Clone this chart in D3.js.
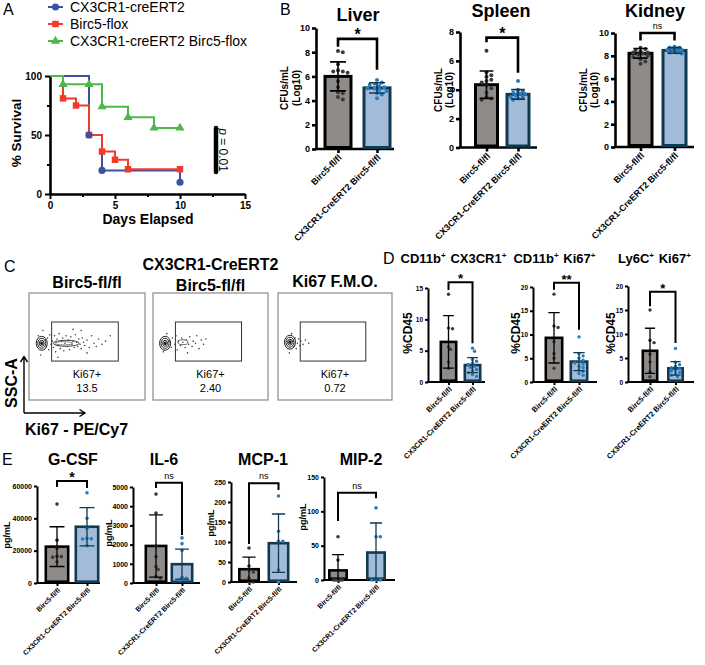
<!DOCTYPE html>
<html><head><meta charset="utf-8">
<script src="https://cdn.jsdelivr.net/npm/d3@7"></script>
<style>
body{margin:0;background:#fff;}
svg{display:block;}
</style></head><body>
<svg id="fig" width="705" height="665"></svg>
<script>
// ================= DATA =================
// Panel A : Kaplan-Meier survival
const survSeries = ["CX3CR1-creERT2", "Birc5-flox", "CX3CR1-creERT2 Birc5-flox"];
const survDaysCre  = [0, 3, 4, 10];
const survPctCre   = [100, 50, 20, 10];
const survDaysFlox = [0, 1, 2, 3, 4, 5, 6, 10];
const survPctFlox  = [100, 81, 75, 50, 36, 29, 21, 21];
const survDaysKO   = [0, 1, 4, 6, 8, 10];
const survPctKO    = [100, 93, 74, 65, 56, 56];
const markDaysCre  = [3, 4, 10];
const markPctCre   = [50, 20, 10];
const markDaysFlox = [1, 2, 3, 4, 5, 6, 10];
const markPctFlox  = [81, 75, 50, 36, 29, 21, 21];
const markDaysKO   = [1, 3, 4, 6, 8, 10];
const markPctKO    = [93, 93, 74, 65, 56, 56];
const survXTicks = [0, 5, 10, 15];
const survXMinor = [2.5, 7.5, 12.5];
const survYTicks = [0, 50, 100];
const survYMinor = [25, 75];
const survPValue = "0.01";

// Groups used in B, D, E
const groups = ["Birc5-fl/fl", "CX3CR1-CreERT2 Birc5-fl/fl"];

// Panel B : CFUs/mL (Log10)
const liverCtrl = [8.1, 8.0, 7.0, 6.5, 6.4, 6.4, 6.3, 5.6, 5.1, 4.7, 4.6, 4.3, 4.1];
const liverKO   = [5.7, 5.5, 5.4, 5.3, 5.2, 5.1, 5.0, 5.0, 4.9, 4.8, 4.6, 4.5, 4.2];
const liverMean = [6.0, 5.05];
const liverSD   = [1.2, 0.42];
const liverTicks = [0, 2, 4, 6, 8, 10];
const spleenCtrl = [6.7, 5.2, 5.0, 4.9, 4.7, 4.6, 4.5, 4.3, 4.1, 3.8, 3.5, 3.4, 3.3];
const spleenKO   = [4.6, 4.0, 3.9, 3.8, 3.8, 3.7, 3.7, 3.6, 3.5, 3.5, 3.4, 3.3];
const spleenMean = [4.35, 3.68];
const spleenSD   = [0.95, 0.33];
const spleenTicks = [0, 2, 4, 6, 8];
const kidneyCtrl = [8.7, 8.6, 8.5, 8.4, 8.3, 8.3, 8.2, 8.1, 8.0, 7.9, 7.7, 7.5, 7.3];
const kidneyKO   = [8.8, 8.7, 8.7, 8.6, 8.6, 8.5, 8.5, 8.4, 8.4, 8.3, 8.3, 8.2];
const kidneyMean = [8.22, 8.47];
const kidneySD   = [0.42, 0.25];
const kidneyTicks = [0, 2, 4, 6, 8, 10];

// Panel C : flow cytometry
const flowTitles = [["Birc5-fl/fl"], ["CX3CR1-CreERT2", "Birc5-fl/fl"], ["Ki67 F.M.O."]];
const flowGateName = "Ki67+";
const flowGateValues = ["13.5", "2.40", "0.72"];
const flowBlob = [[11, 53], [10.5, 53], [10.5, 54]];
const flowDots1 = [[14,56],[15,50],[16,58],[17,47],[18,61],[19,52],[20,55],[21,49],[22,60],[23,45],[24,57],[25,51],[26,62],[27,48],[28,55],[29,58],[30,46],[31,53],[32,60],[33,50],[34,56],[35,47],[36,59],[37,52],[38,55],[39,49],[40,61],[41,54],[42,50],[43,57],[44,52],[45,48],[46,58],[47,54],[48,51],[50,56],[52,49],[54,60],[56,53],[58,50],[60,57],[63,52],[66,55],[70,60],[12,65],[10,42],[8,60],[45,65],[50,44],[38,66],[25,40]];
const flowDots2 = [[14,55],[16,49],[17,58],[19,52],[20,60],[21,47],[22,55],[24,51],[25,58],[26,54],[28,49],[29,56],[31,52],[32,59],[34,50],[35,55],[37,53],[38,60],[40,48],[42,56],[44,52],[46,57],[12,62],[9,45],[30,44]];
const flowDots3 = [[13,55],[14,50],[15,58],[16,48],[17,53],[18,57],[19,51],[20,55],[22,52],[24,56],[27,53],[12,62],[10,44]];

// Panel D : %CD45
const dTitles = [["CD11b", "CX3CR1"], ["CD11b", "Ki67"], ["Ly6C", "Ki67"]];
const cx3Ctrl = [14.0, 8.6, 8.5, 5.6, 5.2, 3.2, 2.2];
const cx3KO   = [5.4, 4.9, 3.6, 3.3, 3.0, 2.8, 2.5, 2.3, 2.0, 1.8, 1.5, 1.2, 0.9];
const cx3Mean = [6.4, 2.7];
const cx3SD   = [4.2, 1.2];
const cx3Ticks = [0, 5, 10, 15];
const cdkCtrl = [18.5, 11.8, 11.5, 8.5, 6.0, 5.0, 2.9];
const cdkKO   = [9.5, 6.0, 5.5, 5.0, 4.6, 4.3, 4.0, 3.8, 3.3, 3.0, 2.5, 2.2, 1.8, 1.4];
const cdkMean = [9.3, 4.3];
const cdkSD   = [5.3, 1.9];
const cdkTicks = [0, 5, 10, 15, 20];
const lyCtrl = [15.0, 8.7, 8.2, 5.8, 4.2, 2.1, 1.1];
const lyKO   = [7.0, 4.1, 3.6, 3.3, 3.0, 2.8, 2.5, 2.3, 2.0, 1.7, 1.4, 1.1];
const lyMean = [6.5, 2.85];
const lySD   = [4.7, 1.4];
const lyTicks = [0, 5, 10, 15, 20];

// Panel E : cytokines pg/mL
const gcsfCtrl = [48800, 26500, 21500, 16500, 16300, 16000, 13000];
const gcsfKO   = [55800, 40000, 33800, 27600, 27400, 27200, 23000];
const gcsfMean = [22500, 34800];
const gcsfSD   = [12300, 11800];
const gcsfTicks = [0, 20000, 40000, 60000];
const il6Ctrl = [4630, 3640, 1930, 1370, 850, 700, 330, 250];
const il6KO   = [2350, 2050, 1700, 300, 250, 150];
const il6Mean = [1930, 980];
const il6SD   = [1620, 780];
const il6Ticks = [0, 1000, 2000, 3000, 4000, 5000];
const mcpCtrl = [85, 40, 30, 25, 10, 0, 0];
const mcpKO   = [215, 127, 102, 102, 30, 0];
const mcpMean = [32, 97];
const mcpSD   = [30, 73];
const mcpTicks = [0, 50, 100, 150, 200, 250];
const mipCtrl = [63, 29, 0, 0, 0, 0, 0];
const mipKO   = [105, 63, 63, 0, 0, 0];
const mipMean = [14, 40];
const mipSD   = [23, 43];
const mipTicks = [0, 50, 100, 150];

// ================= DRAWING =================
const FONT = '"Liberation Sans", Arial, Helvetica, sans-serif';
const svg = d3.select("#fig").attr("font-family", FONT);
const BLUE_L = "#3b52a3", RED_L = "#f03a2c", GREEN_L = "#4db848";
const GRAY_FILL = "#8f8b88", BLUE_FILL = "#a2bbd8", BLUE_EDGE = "#0f3a52";
const GRAY_DOT = "#3a3a3a", BLUE_DOT = "#2a7bb9";

function txt(g, x, y, s, o = {}) {
  const t = g.append("text").attr("x", x).attr("y", y).text(s)
    .attr("font-size", o.size || 12).attr("font-weight", o.weight || "normal")
    .attr("text-anchor", o.anchor || "start").attr("fill", o.fill || "#000");
  if (o.rotate != null) t.attr("transform", `rotate(${o.rotate},${x},${y})`);
  if (o.style) t.attr("font-style", o.style);
  return t;
}
function styleAxis(sel, o) {
  sel.attr("font-family", FONT).attr("font-size", o.size).attr("font-weight", o.weight || "bold");
  sel.select(".domain").attr("stroke", "#000").attr("stroke-width", o.sw);
  sel.selectAll(".tick line").attr("stroke", "#000").attr("stroke-width", o.tw || o.sw);
  sel.selectAll(".tick text").attr("fill", "#000");
}

// Panel letters
[["A", 3, 15], ["B", 280, 15], ["C", 4, 272], ["D", 383, 264], ["E", 2, 465]]
  .forEach(([l, x, y]) => txt(svg, x, y, l, { size: 16 }));

// ---------- Panel A ----------
(function () {
  const g = svg.append("g");
  const x = d3.scaleLinear().domain([0, 15]).range([50, 245]);
  const y = d3.scaleLinear().domain([0, 100]).range([194, 76]);
  const gx = g.append("g").attr("transform", "translate(0,194)")
    .call(d3.axisBottom(x).tickValues(survXTicks).tickSize(5).tickSizeOuter(0).tickPadding(3).tickFormat(d3.format("d")));
  styleAxis(gx, { size: 10, sw: 2.6, tw: 2 });
  const gxm = g.append("g").attr("transform", "translate(0,194)")
    .call(d3.axisBottom(x).tickValues(survXMinor).tickSize(3).tickFormat(""));
  gxm.select(".domain").remove(); gxm.selectAll("line").attr("stroke-width", 2);
  const gy = g.append("g").attr("transform", "translate(50,0)")
    .call(d3.axisLeft(y).tickValues(survYTicks).tickSize(5).tickSizeOuter(0).tickPadding(3));
  styleAxis(gy, { size: 10, sw: 2.6, tw: 2 });
  const gym = g.append("g").attr("transform", "translate(50,0)")
    .call(d3.axisLeft(y).tickValues(survYMinor).tickSize(3).tickFormat(""));
  gym.select(".domain").remove(); gym.selectAll("line").attr("stroke-width", 2);

  txt(g, 148, 224, "Days Elapsed", { size: 14, weight: "bold", anchor: "middle" });
  txt(g, 21, 133, "% Survival", { size: 13.5, weight: "bold", anchor: "middle", rotate: -90 });

  const line = d3.line().x(d => x(d[0])).y(d => y(d[1])).curve(d3.curveStepAfter);
  const series = [
    { days: survDaysCre, pct: survPctCre, md: markDaysCre, mp: markPctCre, color: BLUE_L, sym: d3.symbolCircle, size: 40 },
    { days: survDaysFlox, pct: survPctFlox, md: markDaysFlox, mp: markPctFlox, color: RED_L, sym: d3.symbolSquare, size: 42 },
    { days: survDaysKO, pct: survPctKO, md: markDaysKO, mp: markPctKO, color: GREEN_L, sym: d3.symbolTriangle, size: 36 }
  ];
  series.forEach(s => {
    g.append("path").datum(s.days.map((d, i) => [d, s.pct[i]]))
      .attr("d", line).attr("fill", "none").attr("stroke", s.color).attr("stroke-width", 2);
  });
  [1, 2, 0].forEach(k => {
    const s = series[k];
    g.selectAll(null).data(s.md.map((d, i) => [d, s.mp[i]])).join("path")
      .attr("transform", d => `translate(${x(d[0])},${y(d[1])})`)
      .attr("d", d3.symbol().type(s.sym).size(s.size)).attr("fill", s.color);
  });
  // legend
  const legY = [7, 24, 41];
  series.forEach((s, i) => {
    g.append("line").attr("x1", 48).attr("x2", 63).attr("y1", legY[i]).attr("y2", legY[i])
      .attr("stroke", s.color).attr("stroke-width", 2);
    g.append("path").attr("transform", `translate(55.5,${legY[i]})`)
      .attr("d", d3.symbol().type(s.sym).size(s.size)).attr("fill", s.color);
    txt(g, 70, legY[i] + 5, survSeries[i], { size: 14 });
  });
  // p value
  g.append("line").attr("x1", 216).attr("x2", 216).attr("y1", 128).attr("y2", 172)
    .attr("stroke", "#000").attr("stroke-width", 4.5).attr("stroke-linecap", "round");
  const pt = txt(g, 219, 150, "", { size: 12, anchor: "middle", rotate: 90 });
  pt.append("tspan").attr("font-style", "italic").text("p");
  pt.append("tspan").text(" = " + survPValue);
})();

// ---------- Bar + dot plots (B, D, E) ----------
const STY = {
  B: { tick: 9, xl: 9, yl: 10, title: 18, star: 16, ns: 9, sw: 2.6, barSW: 3, r: 2, errW: 1.6, cap: 0.55, tickLen: 4, xlOff: 7 },
  D: { tick: 6.5, xl: 7.5, yl: 12, title: 13, star: 13, ns: 8, sw: 2, barSW: 2.6, r: 1.7, errW: 1.3, cap: 0.6, tickLen: 3, xlOff: 6 },
  E: { tick: 7, xl: 7, yl: 9, title: 16, star: 14, ns: 9, sw: 2, barSW: 2.6, r: 1.8, errW: 1.3, cap: 0.6, tickLen: 3, xlOff: 6 }
};
const plots = [
  { s: "B", ctrl: liverCtrl, ko: liverKO, mean: liverMean, sd: liverSD, ymax: 10, ticks: liverTicks, sig: "*", title: "Liver", ylab: ["CFUs/mL", "(Log10)"],
    L: { ax: 316, axEnd: 394, top: 28, bottom: 149, c: [338, 377], bw: 29, br: [9.1, 8.45, 6.55], tx: 358, ty: 21, ylx: [288, 300], yly: 88 } },
  { s: "B", ctrl: spleenCtrl, ko: spleenKO, mean: spleenMean, sd: spleenSD, ymax: 8, ticks: spleenTicks, sig: "*", title: "Spleen", ylab: ["CFUs/mL", "(Log10)"],
    L: { ax: 460, axEnd: 537, top: 32, bottom: 147.5, c: [486.5, 518], bw: 25, br: [7.61, 7.29, 5.18], tx: 501, ty: 17, ylx: [442, 453], yly: 90 } },
  { s: "B", ctrl: kidneyCtrl, ko: kidneyKO, mean: kidneyMean, sd: kidneySD, ymax: 10, ticks: kidneyTicks, sig: "ns", title: "Kidney", ylab: ["CFUs/mL", "(Log10)"],
    L: { ax: 615, axEnd: 694, top: 33, bottom: 147, c: [640.5, 674.5], bw: 26, br: [10.0, 9.35, 9.35], tx: 655, ty: 17, ylx: [587, 598], yly: 90 } },
  { s: "D", ctrl: cx3Ctrl, ko: cx3KO, mean: cx3Mean, sd: cx3SD, ymax: 15, ticks: cx3Ticks, sig: "*", ylab: ["%CD45"],
    L: { ax: 428, axEnd: 485, top: 288, bottom: 382, c: [448.5, 472.5], bw: 18, br: [15.9, 14.7, 6.2], ylx: [412], yly: 333 } },
  { s: "D", ctrl: cdkCtrl, ko: cdkKO, mean: cdkMean, sd: cdkSD, ymax: 20, ticks: cdkTicks, sig: "**", ylab: ["%CD45"],
    L: { ax: 533, axEnd: 597, top: 287, bottom: 382, c: [554, 579], bw: 19, br: [20.9, 19.4, 11.0], ylx: [520], yly: 333 } },
  { s: "D", ctrl: lyCtrl, ko: lyKO, mean: lyMean, sd: lySD, ymax: 20, ticks: lyTicks, sig: "*", ylab: ["%CD45"],
    L: { ax: 628, axEnd: 694, top: 286, bottom: 382, c: [650, 675.5], bw: 17, br: [18.8, 15.8, 8.1], ylx: [615], yly: 333 } },
  { s: "E", ctrl: gcsfCtrl, ko: gcsfKO, mean: gcsfMean, sd: gcsfSD, ymax: 60000, ticks: gcsfTicks, sig: "*", title: "G-CSF", ylab: ["pg/mL"],
    L: { ax: 37, axEnd: 100, top: 486, bottom: 583, c: [57, 87], bw: 25, br: [63100, 59400, 58800], tx: 73, ty: 465, ylx: [10], yly: 535 } },
  { s: "E", ctrl: il6Ctrl, ko: il6KO, mean: il6Mean, sd: il6SD, ymax: 5000, ticks: il6Ticks, sig: "ns", title: "IL-6", ylab: ["pg/mL"],
    L: { ax: 133, axEnd: 200, top: 487, bottom: 583, c: [156, 182], bw: 23, br: [5224, 4948, 2500], tx: 164, ty: 465, ylx: [112], yly: 533 } },
  { s: "E", ctrl: mcpCtrl, ko: mcpKO, mean: mcpMean, sd: mcpSD, ymax: 250, ticks: mcpTicks, sig: "ns", title: "MCP-1", ylab: ["pg/mL"],
    L: { ax: 231, axEnd: 297, top: 482, bottom: 582, c: [249, 278.5], bw: 22, br: [247, 95, 230], tx: 263, ty: 465, ylx: [214], yly: 523 } },
  { s: "E", ctrl: mipCtrl, ko: mipKO, mean: mipMean, sd: mipSD, ymax: 150, ticks: mipTicks, sig: "ns", title: "MIP-2", ylab: ["pg/mL"],
    L: { ax: 324, axEnd: 395, top: 477, bottom: 580, c: [338, 376], bw: 20, br: [127, 86, 119], tx: 361, ty: 465, ylx: [306], yly: 517 } }
];

function swarm(vals, ys, r, maxOff) {
  const pts = vals.map(v => ({ v, y: ys(v) })).sort((a, b) => a.y - b.y);
  const placed = [];
  const step = r * 1.2;
  const cands = [0];
  for (let k = 1; k < 30; k++) {
    const off = (k % 2 ? 1 : -1) * Math.ceil(k / 2) * step;
    if (Math.abs(off) <= maxOff) cands.push(off);
  }
  for (const p of pts) {
    let best = null, bestD = -1;
    for (const c of cands) {
      const md = placed.reduce((m, q) => Math.min(m, Math.hypot(q.x - c, q.y - p.y)), Infinity);
      if (md >= 2 * r * 0.95) { best = c; break; }
      if (md > bestD) { bestD = md; best = c; }
    }
    p.x = best; placed.push(p);
  }
  return placed;
}

plots.forEach(P => {
  const S = STY[P.s], L = P.L;
  const g = svg.append("g");
  const y = d3.scaleLinear().domain([0, P.ymax]).range([L.bottom, L.top]);
  const x = d3.scalePoint().domain(groups).range(L.c);
  // y axis
  const gy = g.append("g").attr("transform", `translate(${L.ax},0)`)
    .call(d3.axisLeft(y).tickValues(P.ticks).tickSize(S.tickLen).tickSizeOuter(0).tickPadding(2).tickFormat(d3.format("d")));
  styleAxis(gy, { size: S.tick, sw: S.sw });
  // x axis
  g.append("line").attr("x1", L.ax - S.sw / 2).attr("x2", L.axEnd).attr("y1", L.bottom).attr("y2", L.bottom)
    .attr("stroke", "#000").attr("stroke-width", S.sw);
  const gx = g.append("g").attr("transform", `translate(0,${L.bottom})`)
    .call(d3.axisBottom(x).tickSize(S.tickLen).tickFormat(""));
  gx.select(".domain").remove();
  gx.selectAll("line").attr("stroke", "#000").attr("stroke-width", S.sw);
  groups.forEach(gr => {
    const lx = x(gr) + 2, ly = L.bottom + S.xlOff;
    g.append("text").attr("transform", `translate(${lx},${ly}) rotate(-45)`)
      .attr("text-anchor", "end").attr("dy", "0.35em").attr("font-size", S.xl).attr("font-weight", "bold").text(gr);
  });
  // bars
  const sets = [
    { vals: P.ctrl, fill: GRAY_FILL, edge: "#000", dot: GRAY_DOT },
    { vals: P.ko, fill: BLUE_FILL, edge: BLUE_EDGE, dot: BLUE_DOT }
  ];
  sets.forEach((st, i) => {
    const cx = x(groups[i]);
    const inset = S.barSW / 2;
    g.append("rect").attr("x", cx - L.bw / 2 + inset).attr("width", L.bw - 2 * inset)
      .attr("y", y(P.mean[i])).attr("height", y(0) - y(P.mean[i]) - inset)
      .attr("fill", st.fill).attr("stroke", st.edge).attr("stroke-width", S.barSW);
    const pts = swarm(st.vals, y, S.r, L.bw / 2 - S.r - 2);
    g.selectAll(null).data(pts).join("circle")
      .attr("cx", d => cx + d.x).attr("cy", d => d.y).attr("r", S.r).attr("fill", st.dot);
    const lo = Math.max(0, P.mean[i] - P.sd[i]), hi = P.mean[i] + P.sd[i];
    const cw = L.bw * S.cap / 2;
    g.append("path")
      .attr("d", `M${cx},${y(lo)}V${y(hi)}M${cx - cw},${y(hi)}H${cx + cw}` + (lo > 0 ? `M${cx - cw},${y(lo)}H${cx + cw}` : ""))
      .attr("fill", "none").attr("stroke", st.edge).attr("stroke-width", S.errW);
  });
  // significance bracket
  const c1 = x(groups[0]), c2 = x(groups[1]);
  const bt = y(L.br[0]);
  g.append("path").attr("d", `M${c1},${y(L.br[1])}V${bt}H${c2}V${y(L.br[2])}`)
    .attr("fill", "none").attr("stroke", "#000").attr("stroke-width", S.sw);
  if (P.sig === "ns") txt(g, (c1 + c2) / 2, bt - 4, "ns", { size: S.ns, anchor: "middle" });
  else txt(g, (c1 + c2) / 2, bt + 1, P.sig, { size: S.star, weight: "bold", anchor: "middle" });
  // y label
  P.ylab.forEach((t, k) => txt(g, L.ylx[k], L.yly, t, { size: S.yl, weight: "bold", anchor: "middle", rotate: -90 }));
  // title
  if (P.title) txt(g, L.tx, L.ty, P.title, { size: S.title, weight: "bold", anchor: "middle" });
});

// Panel D titles with superscripts
const dTitleX = [454, 555, 655];
dTitles.forEach((parts, i) => {
  const t = svg.append("text").attr("x", dTitleX[i]).attr("y", 263).attr("text-anchor", "middle")
    .attr("font-size", 13).attr("font-weight", "bold");
  parts.forEach((p, k) => {
    t.append("tspan").text((k ? " " : "") + p);
    t.append("tspan").attr("font-size", 8).attr("dy", -5).text("+");
    t.append("tspan").attr("font-size", 13).attr("dy", 5).text("\u200A");
  });
});

// ---------- Panel C ----------
(function () {
  const g = svg.append("g");
  const boxes = [{ x: 29, w: 116 }, { x: 153, w: 115 }, { x: 278, w: 114 }];
  const bTop = 293, bBot = 400;
  const dots = [flowDots1, flowDots2, flowDots3];
  const titleLines = [[288], [270, 291], [287]];
  boxes.forEach((b, i) => {
    const fx = d3.scaleLinear().domain([0, 100]).range([b.x, b.x + b.w]);
    const fy = d3.scaleLinear().domain([0, 100]).range([bBot, bTop]);
    g.append("rect").attr("x", b.x).attr("y", bTop).attr("width", b.w).attr("height", bBot - bTop)
      .attr("fill", "none").attr("stroke", "#8a8a8a").attr("stroke-width", 1.2);
    g.append("rect").attr("x", fx(19.5)).attr("y", fy(72.9)).attr("width", fx(77) - fx(19.5)).attr("height", fy(36.4) - fy(72.9))
      .attr("fill", "none").attr("stroke", "#333").attr("stroke-width", 1);
    g.selectAll(null).data(dots[i]).join("circle")
      .attr("cx", d => fx(d[0])).attr("cy", d => fy(d[1])).attr("r", 0.8).attr("fill", "#444");
    const [bx, by] = flowBlob[i];
    [[7, 5.5], [5, 4], [3, 2.4], [1.4, 1.2]].forEach(([ry, rx], k) => {
      g.append("ellipse").attr("cx", fx(bx)).attr("cy", fy(by)).attr("rx", rx).attr("ry", ry)
        .attr("fill", k === 3 ? "#222" : "none").attr("stroke", "#222").attr("stroke-width", 1);
    });
    if (i === 0) {
      g.append("ellipse").attr("cx", fx(32)).attr("cy", fy(53)).attr("rx", 13).attr("ry", 3)
        .attr("fill", "none").attr("stroke", "#444").attr("stroke-width", 1);
      g.append("ellipse").attr("cx", fx(30)).attr("cy", fy(53)).attr("rx", 9).attr("ry", 1.6)
        .attr("fill", "none").attr("stroke", "#666").attr("stroke-width", 0.8);
    }
    if (i === 1) {
      g.append("ellipse").attr("cx", fx(26)).attr("cy", fy(54)).attr("rx", 5).attr("ry", 2.5)
        .attr("fill", "none").attr("stroke", "#555").attr("stroke-width", 0.9);
    }
    const cx = b.x + b.w / 2;
    txt(g, cx, 378, flowGateName, { size: 11, anchor: "middle" });
    txt(g, cx, 392, flowGateValues[i], { size: 11, anchor: "middle" });
    flowTitles[i].forEach((t, k) => txt(g, cx, titleLines[i][k], t, { size: 16, weight: "bold", anchor: "middle" }));
  });
  // axis arrows
  g.append("path").attr("d", "M24,413V357M20.5,362L24,356.5L27.5,362M24,413H85M79.5,409.5L85,413L79.5,416.5")
    .attr("fill", "none").attr("stroke", "#000").attr("stroke-width", 1.4);
  txt(g, 17, 383, "SSC-A", { size: 16, weight: "bold", anchor: "middle", rotate: -90 });
  txt(g, 25, 435, "Ki67 - PE/Cy7", { size: 16, weight: "bold" });
})();
</script>
</body></html>
